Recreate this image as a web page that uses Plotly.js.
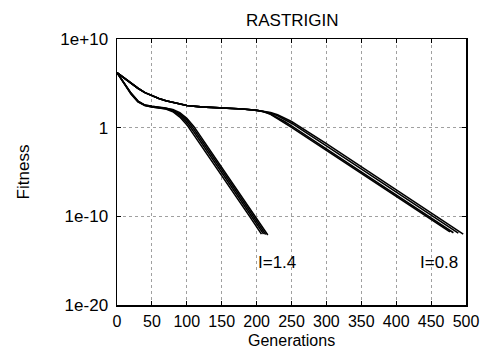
<!DOCTYPE html>
<html>
<head>
<meta charset="utf-8">
<script src="https://cdn.plot.ly/plotly-3.0.1.min.js"></script>
<style>html,body{margin:0;padding:0;background:#fff;}#chart{width:483px;height:352px;}
#chart text{-webkit-font-smoothing:antialiased;}</style>
</head>
<body>
<div id="chart"></div>
<script>
// ---- data (fitness values) ----
const titleText = "RASTRIGIN";
const xLabel = "Generations";
const yLabel = "Fitness";
const yTickVals = [1e-20, 1e-10, 1, 1e10];
const yTickText = ["1e-20", "1e-10", "1", "1e+10"];
const xTickVals = [0, 50, 100, 150, 200, 250, 300, 350, 400, 450, 500];

// I = 1.4 runs
const genA14 = [0,10,20,30,40,50,60,70,80,90,100,110,150,190,207];
const fitA14 = [1.6e6,1e5,6.3e3,7.9e2,3.2e2,2.2e2,1.8e2,1.26e2,63,16,2.2,0.16,4e-6,1e-10,1e-12];
const genB14 = [0,10,20,30,40,50,60,70,80,90,100,110,150,190,210];
const fitB14 = [1.6e6,1e5,7.1e3,8.9e2,3.2e2,2.2e2,1.8e2,1.4e2,79,25,4,0.35,8.9e-6,2.2e-10,1e-12];
const genC14 = [0,10,20,30,40,50,60,70,80,90,100,110,150,190,213];
const fitC14 = [1.6e6,1.1e5,7.9e3,1e3,3.5e2,2.5e2,2e2,1.6e2,1e2,35,7.1,0.7,1.8e-5,4.5e-10,8.9e-13];
const genD14 = [0,10,20,30,40,50,60,70,80,90,100,110,150,190,216];
const fitD14 = [1.6e6,1.1e5,7.9e3,1e3,3.5e2,2.5e2,2e2,1.6e2,1.1e2,50,11,1.4,3.5e-5,8.9e-10,7.9e-13];

// I = 0.8 runs
const genA08 = [0,10,20,30,40,50,60,70,80,90,100,120,140,160,180,200,210,220,230,240,250,300,350,400,450,477];
const fitA08 = [1.6e6,4e5,1e5,2.8e4,8.9e3,4e3,2e3,1.1e3,7.1e2,4.5e2,3.2e2,2.2e2,1.9e2,1.6e2,1.26e2,89,63,32,11,3.5,1.1,2.8e-3,7.1e-6,1.8e-8,4.5e-11,1.8e-12];
const genB08 = [0,10,20,30,40,50,60,70,80,90,100,120,140,160,180,200,210,220,230,240,250,300,350,400,450,482];
const fitB08 = [1.6e6,4e5,1e5,2.8e4,8.9e3,4e3,2e3,1.1e3,7.1e2,4.5e2,3.2e2,2.2e2,1.9e2,1.6e2,1.26e2,89,66,35,14,5,1.6,4e-3,1e-5,2.5e-8,6.3e-11,1.4e-12];
const genC08 = [0,10,20,30,40,50,60,70,80,90,100,120,140,160,180,200,210,220,230,240,250,300,350,400,450,489];
const fitC08 = [1.6e6,4e5,1e5,2.8e4,8.9e3,4e3,2e3,1.1e3,7.1e2,4.5e2,3.2e2,2.2e2,1.9e2,1.6e2,1.26e2,93,71,45,22,8.9,3.2,8.9e-3,2.2e-5,5.6e-8,1.4e-10,1.26e-12];
const genD08 = [0,10,20,30,40,50,60,70,80,90,100,120,140,160,180,200,210,220,230,240,250,300,350,400,450,496];
const fitD08 = [1.6e6,4e5,1e5,2.8e4,8.9e3,4e3,2e3,1.1e3,7.1e2,4.5e2,3.2e2,2.2e2,1.9e2,1.6e2,1.26e2,93,74,50,28,12.6,5,1.6e-2,4e-5,1e-7,2.5e-10,1e-12];

const runs = [
  [genA14, fitA14], [genB14, fitB14], [genC14, fitC14], [genD14, fitD14],
  [genA08, fitA08], [genB08, fitB08], [genC08, fitC08], [genD08, fitD08]
];

const curveLabels = [
  {text: "I=1.4", x: 229, y: 6e-16},
  {text: "I=0.8", x: 461, y: 6e-16}
];

const FONT = "Liberation Sans, Arial, sans-serif";
const FS = 17;

const traces = runs.map(r => ({
  x: r[0], y: r[1], type: "scatter", mode: "lines",
  line: {color: "#000", width: 1.6}, showlegend: false, hoverinfo: "skip"
}));

const axisCommon = {
  showline: true, mirror: "ticks", linecolor: "#000", linewidth: 1.5,
  ticks: "inside", ticklen: 4, tickcolor: "#000", tickwidth: 1,
  showgrid: true, gridcolor: "#a0a0a0", gridwidth: 1, griddash: "dot",
  zeroline: false,
  tickfont: {family: FONT, size: FS, color: "#000"}
};

const annFont = {family: FONT, size: FS, color: "#000"};

const layout = {
  width: 483, height: 352,
  margin: {l: 117, r: 17, t: 39, b: 47},
  paper_bgcolor: "#fff", plot_bgcolor: "#fff",
  font: {family: FONT, size: FS, color: "#000"},
  title: {text: titleText, font: {family: FONT, size: FS, color: "#000"}, x: 0.605, xanchor: "center", y: 0.943, yanchor: "middle"},
  xaxis: Object.assign({}, axisCommon, {
    range: [0, 500], tickmode: "array", tickvals: xTickVals,
    ticklabelstandoff: 1,
    tickfont: {family: FONT, size: 16, color: "#000"}
  }),
  yaxis: Object.assign({}, axisCommon, {
    type: "log", range: [-20, 10], tickmode: "array",
    tickvals: yTickVals, ticktext: yTickText,
    ticklabelstandoff: 4,
    title: {text: yLabel, font: annFont, standoff: 26}
  }),
  annotations: curveLabels.map(a => ({
    text: a.text, x: a.x, y: Math.log10(a.y), xref: "x", yref: "y",
    showarrow: false, xanchor: "center", yanchor: "middle", font: annFont
  })).concat([
    {text: xLabel, xref: "paper", yref: "paper", x: 0.5, y: -0.1335,
     xanchor: "center", yanchor: "middle", showarrow: false,
     font: {family: FONT, size: 16, color: "#000"}}
  ])
};

Plotly.newPlot("chart", traces, layout, {staticPlot: true, displayModeBar: false});
</script>
</body>
</html>
